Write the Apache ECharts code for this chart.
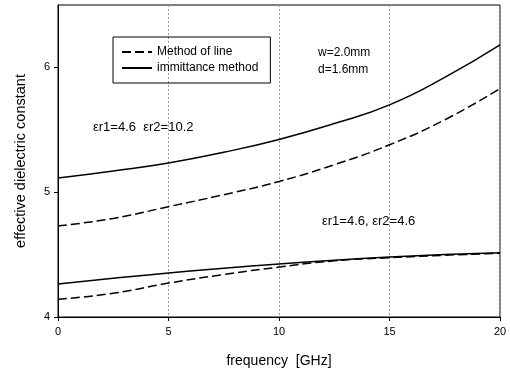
<!DOCTYPE html>
<html>
<head>
<meta charset="utf-8">
<script src="https://cdn.jsdelivr.net/npm/echarts@6/dist/echarts.min.js"></script>
<style>
  html, body { margin: 0; padding: 0; background: #fff; }
  #chart { width: 510px; height: 374px; }
</style>
</head>
<body>
<div id="chart"></div>
<script>
// frequency points (GHz)
var freq = [0, 2.5, 5, 7.5, 10, 12.5, 15, 17.5, 20];
// er1=4.6 er2=10.2
var molHigh = [4.73, 4.79, 4.884, 4.98, 5.086, 5.22, 5.38, 5.58, 5.83];
var immHigh = [5.113, 5.17, 5.234, 5.32, 5.423, 5.55, 5.70, 5.92, 6.18];
// er1=4.6 er2=4.6
var molLow = [4.143, 4.19, 4.272, 4.34, 4.40, 4.45, 4.475, 4.495, 4.51];
var immLow = [4.264, 4.31, 4.353, 4.39, 4.425, 4.455, 4.48, 4.50, 4.515];

var xTicks = [0, 5, 10, 15, 20];
var yTicks = [4, 5, 6];

function pairs(ys) {
  return freq.map(function (f, i) { return [f, ys[i]]; });
}

var myChart = echarts.init(document.getElementById('chart'));
var font = 'Liberation Sans';

var dashed = { color: '#000', width: 1.5, type: [9, 4] };
var solid = { color: '#000', width: 1.5, type: 'solid' };

var option = {
  animation: false,
  textStyle: { fontFamily: font },
  grid: {
    left: 58,
    right: 10,
    top: 5,
    bottom: 57,
    show: true,
    borderColor: '#000',
    borderWidth: 1
  },
  legend: {
    data: ['Method of line', 'immittance method'],
    orient: 'vertical',
    left: 113,
    top: 37,
    itemWidth: 30,
    itemHeight: 10,
    itemGap: 4,
    padding: [9, 12, 9, 8],
    borderColor: '#000',
    borderWidth: 1,
    itemStyle: { opacity: 0 },
    textStyle: { fontFamily: font, fontSize: 12, color: '#000' }
  },
  xAxis: {
    type: 'value',
    min: 0,
    max: 20,
    interval: 5,
    name: 'frequency  [GHz]',
    nameLocation: 'middle',
    nameGap: 37,
    nameTextStyle: { fontFamily: font, fontSize: 14, color: '#000' },
    axisLine: { lineStyle: { color: '#000' } },
    axisTick: { lineStyle: { color: '#000' }, length: 4 },
    axisLabel: { color: '#000', fontSize: 11, margin: 9 },
    splitLine: { show: true, lineStyle: { color: '#999', type: [2, 2] } }
  },
  yAxis: {
    type: 'value',
    min: 4,
    max: 6.5,
    interval: 1,
    name: 'effective dielectric constant',
    nameLocation: 'middle',
    nameGap: 30,
    nameTextStyle: { fontFamily: font, fontSize: 14.5, color: '#000' },
    axisLine: { show: true, lineStyle: { color: '#000' } },
    axisTick: { show: true, lineStyle: { color: '#000' }, length: 4 },
    axisLabel: { color: '#000', fontSize: 11, margin: 8, showMaxLabel: false },
    splitLine: { show: false }
  },
  graphic: [
    { type: 'text', left: 318, top: 47, style: { text: 'w=2.0mm', font: '12px "Liberation Sans"', fill: '#000' } },
    { type: 'text', left: 318, top: 64, style: { text: 'd=1.6mm', font: '12px "Liberation Sans"', fill: '#000' } },
    { type: 'text', left: 93, top: 121, style: { text: 'εr1=4.6  εr2=10.2', font: '13px "Liberation Sans"', fill: '#000' } },
    { type: 'text', left: 322, top: 215, style: { text: 'εr1=4.6, εr2=4.6', font: '13px "Liberation Sans"', fill: '#000' } }
  ],
  series: [
    { name: 'Method of line', type: 'line', symbol: 'none', smooth: true, lineStyle: dashed, itemStyle: { color: '#000' }, data: pairs(molHigh) },
    { name: 'immittance method', type: 'line', symbol: 'none', smooth: true, lineStyle: solid, itemStyle: { color: '#000' }, data: pairs(immHigh) },
    { name: 'Method of line', type: 'line', symbol: 'none', smooth: true, lineStyle: dashed, itemStyle: { color: '#000' }, data: pairs(molLow) },
    { name: 'immittance method', type: 'line', symbol: 'none', smooth: true, lineStyle: solid, itemStyle: { color: '#000' }, data: pairs(immLow) }
  ]
};

myChart.setOption(option);
window.addEventListener('resize', function () {
  myChart.resize();
});
</script>
</body>
</html>
